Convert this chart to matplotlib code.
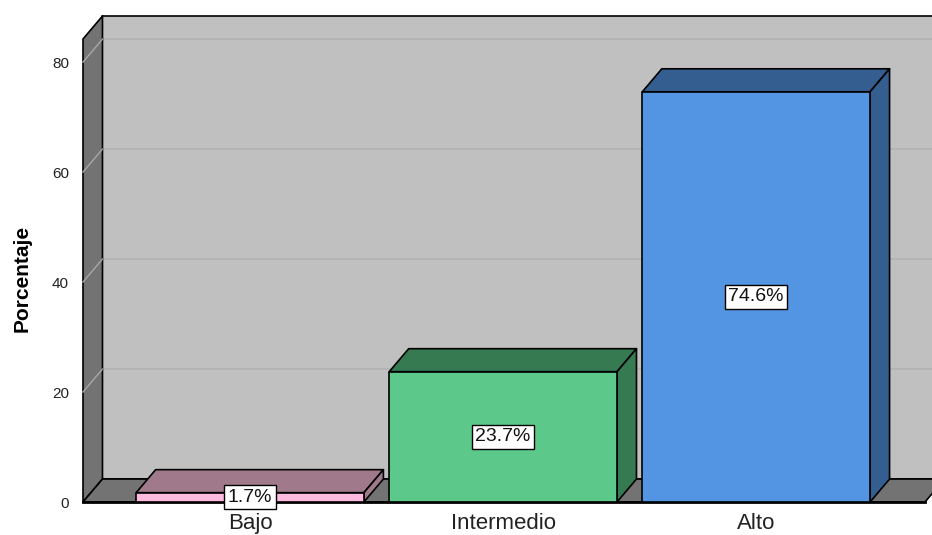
import matplotlib
matplotlib.use("Agg")
import matplotlib.pyplot as plt
from matplotlib.patches import Polygon

plt.rcParams["font.family"] = ["Liberation Sans", "DejaVu Sans"]

categories = ["Bajo", "Intermedio", "Alto"]
values = [1.7, 23.7, 74.6]
labels = ["1.7%", "23.7%", "74.6%"]
yticks = [0, 20, 40, 60, 80]

front_colors = ["#ffbadf", "#5cc98a", "#5394e3"]
shade_colors = ["#a07a8a", "#367a52", "#345d90"]

# scene layout in data units
x_lo, x_hi = -0.66, 2.667
y_top = 84.2
dx, dy = 0.077, 4.18     # depth offset of the 3D box
bar_w = 0.9

fig = plt.figure(figsize=(9.32, 5.35), dpi=100)
ax = fig.add_axes([83 / 932, 33 / 535, 842 / 932, 463 / 535])
ax.set_xlim(x_lo, x_hi)
ax.set_ylim(0, y_top)
for s in ax.spines.values():
    s.set_visible(False)
ax.patch.set_visible(False)


def poly(pts, fc, ec="black", lw=1.2, z=1):
    ax.add_patch(Polygon(pts, closed=True, facecolor=fc, edgecolor=ec,
                         linewidth=lw, clip_on=False, zorder=z, joinstyle="round"))


# back wall, left wall, floor
poly([(x_lo + dx, dy), (x_hi + 0.3, dy), (x_hi + 0.3, y_top + dy), (x_lo + dx, y_top + dy)],
     "#c0c0c0", z=0.5)
poly([(x_lo, 0), (x_lo + dx, dy), (x_lo + dx, y_top + dy), (x_lo, y_top)], "#737373", z=1)
poly([(x_lo, 0), (x_hi, 0), (x_hi + dx, dy), (x_lo + dx, dy)], "#737373", z=1)
ax.plot([x_lo, x_hi], [0, 0], color="black", lw=2, clip_on=False, zorder=1.5)

# grid lines on back and left wall
for v in yticks[1:]:
    ax.plot([x_lo + dx, x_hi + 0.3], [v + dy, v + dy], color="#b2b2b2", lw=1.2,
            clip_on=False, zorder=0.8)
    ax.plot([x_lo, x_lo + dx], [v, v + dy], color="#a8a8a8", lw=1.0,
            clip_on=False, zorder=1.2)

# bars
for i, (v, fc, sc) in enumerate(zip(values, front_colors, shade_colors)):
    l, r = i - bar_w / 2, i + bar_w / 2
    poly([(l, v), (r, v), (r + dx, v + dy), (l + dx, v + dy)], sc, z=3)
    poly([(r, 0), (r + dx, dy), (r + dx, v + dy), (r, v)], sc, z=3)
    poly([(l, 0), (r, 0), (r, v), (l, v)], fc, z=3)
    ax.text(i, v / 2, labels[i], ha="center", va="center", fontsize=14, zorder=5,
            color="#111111",
            bbox=dict(boxstyle="square,pad=0.18", fc="white", ec="black", lw=1))

ax.set_xticks(range(len(categories)))
ax.set_xticklabels(categories, fontsize=16, color="#222222")
ax.set_yticks(yticks)
ax.set_yticklabels([str(t) for t in yticks], fontsize=11, color="#222222")
ax.tick_params(length=0)
ax.tick_params(axis="x", pad=8)
ax.tick_params(axis="y", pad=10)

fig.text(22 / 932, 1 - 278 / 535, "Porcentaje", rotation=90, ha="center", va="center",
         fontsize=15, fontweight="bold")

fig.savefig("out.png", dpi=100, facecolor="white")
